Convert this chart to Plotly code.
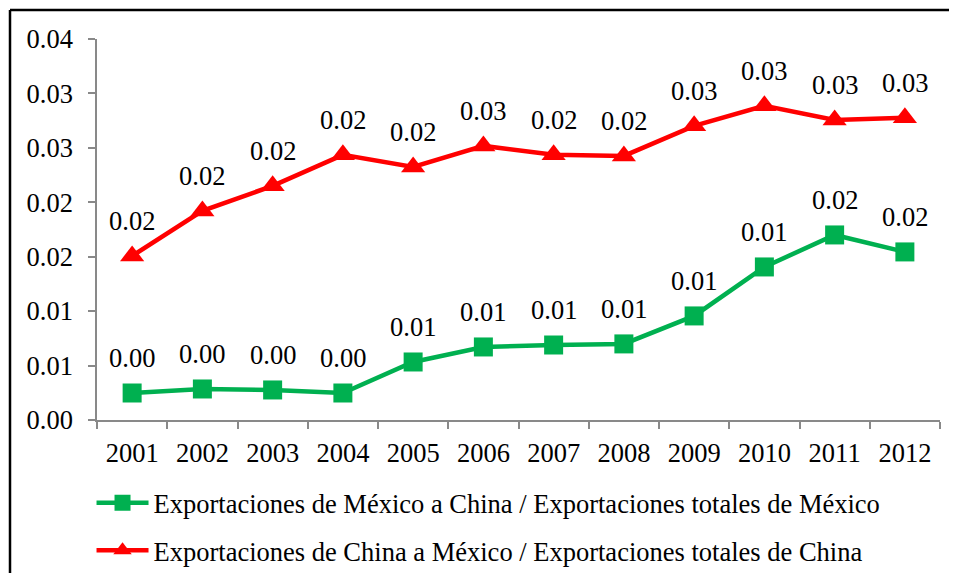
import plotly.graph_objects as go

years = ['2001', '2002', '2003', '2004', '2005', '2006',
         '2007', '2008', '2009', '2010', '2011', '2012']
mex_to_china = [0.00248, 0.00285, 0.00276, 0.00248, 0.00533, 0.00671,
                0.00689, 0.00699, 0.00956, 0.01406, 0.01700, 0.01544]
china_to_mex = [0.01507, 0.01921, 0.02151, 0.02436, 0.02325, 0.02518,
                0.02436, 0.02426, 0.02702, 0.02886, 0.02757, 0.02776]
y_ticks = [0, 0.005, 0.01, 0.015, 0.02, 0.025, 0.03, 0.035]
y_tick_labels = ['0.00', '0.01', '0.01', '0.02', '0.02', '0.03', '0.03', '0.04']

name_mex = 'Exportaciones de México a China / Exportaciones totales de México'
name_china = 'Exportaciones de China a México / Exportaciones totales de China'

GREEN = '#00B050'
RED = '#FF0000'
AXIS = '#898989'
FONT = 'Liberation Serif'
SIZE = 26.5

fig = go.Figure()
fig.add_trace(go.Scatter(
    x=years, y=mex_to_china, name=name_mex, mode='lines+markers',
    line=dict(color=GREEN, width=4.5),
    marker=dict(symbol='square', size=19, color=GREEN),
    legendgroup='mex',
))
fig.add_trace(go.Scatter(
    x=years, y=china_to_mex, name=name_china, mode='lines+markers',
    line=dict(color=RED, width=4.5),
    marker=dict(symbol='triangle-up', size=21, color=RED),
    legendgroup='china',
))

# data labels above each point (x given as category index)
for series in (mex_to_china, china_to_mex):
    for i, val in enumerate(series):
        fig.add_annotation(x=i, y=val, text=f'{val:.2f}', showarrow=False,
                           yanchor='middle', yshift=35,
                           font=dict(family=FONT, size=SIZE, color='black'))

# outer frame of the chart: only the left and top edges are in view
frame = dict(type='line', xref='paper', yref='paper',
             line=dict(color='black', width=2.5), layer='below')
fig.add_shape(x0=-0.1032, x1=-0.1032, y0=-0.8, y1=1.076, **frame)
fig.add_shape(x0=-0.1032, x1=1.3, y0=1.076, y1=1.076, **frame)

# page body has an 8px margin, so the figure is offset by 8px
fig.update_layout(
    width=949, height=565,
    margin=dict(l=89, r=17, t=31, b=153, autoexpand=False),
    paper_bgcolor='white', plot_bgcolor='white',
    font=dict(family=FONT, size=SIZE, color='black'),
    showlegend=True,
    legend=dict(orientation='v', x=-0.0065, xanchor='left', y=-0.155, yanchor='top',
                font=dict(family=FONT, size=SIZE), itemwidth=52,
                traceorder='grouped', tracegroupgap=10,
                bgcolor='rgba(0,0,0,0)'),
    xaxis=dict(type='category', range=[-0.5, 11.5], showgrid=False,
               showline=True, linecolor=AXIS, linewidth=1.5,
               ticks='outside', tickson='boundaries', ticklen=7, tickcolor=AXIS,
               tickwidth=1.5, ticklabelstandoff=8, automargin=False),
    yaxis=dict(range=[0, 0.035], tickvals=y_ticks, ticktext=y_tick_labels,
               showgrid=False, zeroline=False,
               showline=True, linecolor=AXIS, linewidth=1.5,
               ticks='outside', ticklen=7, tickcolor=AXIS, tickwidth=1.5,
               ticklabelstandoff=10, automargin=False),
)

fig.write_html('out.html')
